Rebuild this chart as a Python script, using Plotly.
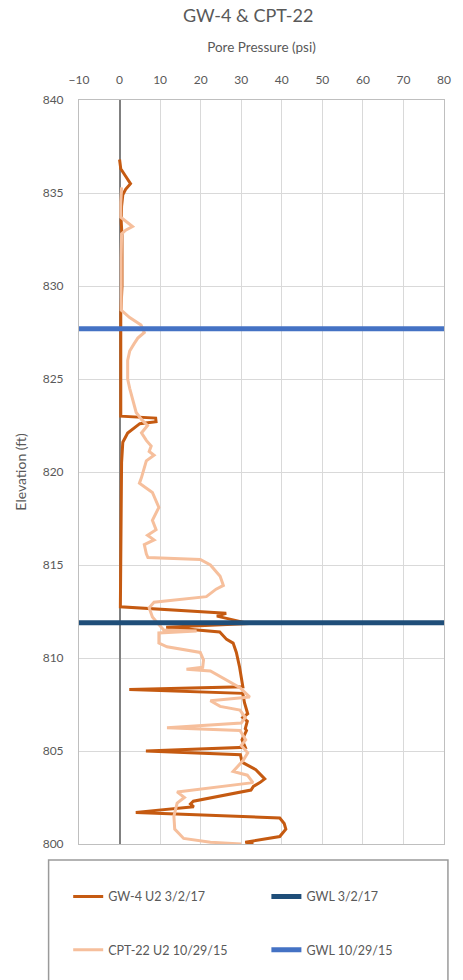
import plotly.graph_objects as go

# GW-4 piezocone pore pressure, 3/2/17
gw4_elev = [836.8, 836.3, 835.9, 835.5, 835.2, 834.9, 834.3, 833.5, 832.7, 831.0,
            830.0, 828.5, 826.0, 824.0, 823.0, 822.9, 822.7, 822.6, 822.5, 822.1,
            821.6, 820.5, 818.0, 815.0, 813.5, 812.75, 812.4, 812.25, 811.85, 811.65,
            811.4, 811.0, 810.8, 810.3, 809.5, 809.0, 808.45, 808.3, 808.1, 807.6,
            807.0, 806.8, 806.6, 806.2, 806.1, 805.6, 805.2, 805.0, 804.8, 804.4,
            804.0, 803.5, 803.3, 803.1, 802.9, 802.3, 802.15, 802.0, 801.7, 801.4,
            801.1, 800.8, 800.4, 800.1, 800.0]
gw4_psi = [0.0, 0.3, 1.5, 2.7, 1.5, 0.8, 0.5, 0.4, 0.6, 0.5,
           0.6, 0.3, 0.3, 0.3, 0.3, 8.9, 9.0, 5.0, 4.4, 2.0,
           0.8, 0.5, 0.4, 0.3, 0.2, 0.2, 26.3, 24.0, 32.0, 11.5,
           24.7, 26.4, 28.0, 28.8, 29.6, 30.0, 30.4, 2.4, 30.4, 30.8,
           31.6, 30.4, 31.5, 31.0, 31.3, 30.2, 31.0, 6.5, 29.8, 30.2,
           33.6, 35.8, 34.6, 33.0, 32.4, 18.2, 17.5, 18.3, 4.0, 39.5,
           40.6, 41.0, 39.5, 31.0, 33.0]

# CPT-22 U2 pore pressure, 10/29/15
cpt_elev = [835.3, 834.5, 833.7, 833.4, 833.2, 833.0, 832.8, 831.5, 830.0, 829.0,
            828.7, 828.3, 827.9, 827.5, 827.2, 826.9, 826.5, 826.0, 825.0, 824.5,
            823.9, 823.2, 822.8, 822.5, 822.1, 821.7, 821.4, 821.1, 820.9, 820.6,
            819.7, 819.4, 818.9, 818.1, 817.4, 816.9, 816.6, 816.35, 816.1, 815.6,
            815.4, 815.3, 815.0, 814.4, 813.9, 813.7, 813.3, 813.0, 812.7, 812.2,
            811.9, 811.5, 811.45, 811.35, 810.8, 810.6, 810.3, 809.9, 809.5, 809.4,
            809.3, 808.8, 808.4, 807.9, 807.7, 807.4, 807.2, 806.8, 806.5, 806.25,
            806.1, 805.6, 805.3, 804.9, 804.5, 803.9, 803.7, 803.3, 802.9, 802.8,
            802.5, 802.2, 801.5, 800.8, 800.3, 800.1, 800.0]
cpt_psi = [0.5, 0.3, 0.3, 2.0, 3.2, 1.5, 0.5, 0.4, 0.5, 0.4,
           0.4, 2.5, 5.3, 6.1, 4.5, 3.6, 2.5, 2.0, 2.0, 2.5,
           3.2, 4.1, 5.5, 6.9, 5.4, 6.6, 7.8, 7.3, 8.5, 6.6,
           5.4, 4.9, 8.1, 9.7, 8.1, 9.0, 6.9, 8.5, 6.1, 6.6,
           7.0, 19.9, 22.4, 24.8, 25.6, 23.8, 21.4, 8.5, 7.3, 8.1,
           9.3, 10.9, 19.0, 9.7, 9.7, 11.7, 19.9, 20.7, 20.5, 16.5,
           22.4, 26.3, 29.7, 32.1, 22.4, 24.8, 29.7, 31.0, 30.0, 11.7,
           29.7, 31.1, 30.0, 31.6, 30.5, 28.0, 31.5, 32.9, 17.0, 14.2,
           16.0, 14.2, 13.4, 13.6, 15.8, 22.4, 30.0]

# Groundwater levels (elevation, ft)
gwl_2017 = 811.9
gwl_2015 = 827.7
x_span = [-10, 80]

x_ticks = [-10, 0, 10, 20, 30, 40, 50, 60, 70, 80]
y_ticks = [800, 805, 810, 815, 820, 825, 830, 835, 840]

FONT = "Lato"
GREY = "#595959"

fig = go.Figure()
fig.add_trace(go.Scatter(x=gw4_psi, y=gw4_elev, mode="lines", name="GW-4 U2 3/2/17",
                         line=dict(color="#C55A11", width=3), legend="legend",
                         showlegend=True))
fig.add_trace(go.Scatter(x=cpt_psi, y=cpt_elev, mode="lines", name="CPT-22 U2 10/29/15",
                         line=dict(color="#F6BF9C", width=3), legend="legend3",
                         showlegend=True))
fig.add_trace(go.Scatter(x=x_span, y=[gwl_2017, gwl_2017], mode="lines", name="GWL 3/2/17",
                         line=dict(color="#1F4E79", width=5), legend="legend2",
                         showlegend=True))
fig.add_trace(go.Scatter(x=x_span, y=[gwl_2015, gwl_2015], mode="lines", name="GWL 10/29/15",
                         line=dict(color="#4472C4", width=5), legend="legend4",
                         showlegend=True))

# one entry per legend so the 2x2 grid can be placed freely
legend_common = dict(orientation="h", xanchor="left", yanchor="middle",
                     font=dict(family=FONT, size=12.5, color=GREY),
                     bgcolor="rgba(0,0,0,0)", borderwidth=0)
col1, col2 = -0.0296, 0.5134
row1, row2 = -0.071, -0.1425

fig.update_layout(
    width=463, height=980, autosize=False,
    margin=dict(l=79, r=12, t=100, b=136),
    paper_bgcolor="white", plot_bgcolor="white",
    font=dict(family=FONT, color=GREY),
    showlegend=True,
    title=dict(text="GW-4 & CPT-22", x=0.536, xref="container", xanchor="center",
               y=0.9837, yref="container", yanchor="middle",
               font=dict(family=FONT, size=18, color=GREY)),
    xaxis=dict(range=x_span, tickvals=x_ticks, side="top",
               showgrid=True, gridcolor="#D9D9D9", gridwidth=1,
               zeroline=True, zerolinecolor="#808080", zerolinewidth=1.5,
               showline=True, linecolor="#BFBFBF", mirror=True,
               ticks="", ticklabelstandoff=10,
               tickfont=dict(family=FONT, size=12, color=GREY),
               title=dict(text="Pore Pressure (psi)", standoff=16,
                          font=dict(family=FONT, size=13.5, color=GREY))),
    yaxis=dict(range=[800, 840], tickvals=y_ticks,
               showgrid=True, gridcolor="#D9D9D9", gridwidth=1, zeroline=False,
               showline=True, linecolor="#BFBFBF", mirror=True,
               ticks="", ticklabelstandoff=12,
               tickfont=dict(family=FONT, size=12, color=GREY),
               title=dict(text="Elevation (ft)", standoff=12,
                          font=dict(family=FONT, size=14, color=GREY))),
    legend=dict(x=col1, y=row1, visible=True, **legend_common),
    legend2=dict(x=col2, y=row1, visible=True, **legend_common),
    legend3=dict(x=col1, y=row2, visible=True, **legend_common),
    legend4=dict(x=col2, y=row2, visible=True, **legend_common),
    shapes=[dict(type="rect", xref="paper", yref="paper",
                 x0=-0.0833, x1=1.0108, y0=-0.0215, y1=-0.2,
                 line=dict(color="#9A9A9A", width=1.5), fillcolor="rgba(0,0,0,0)")],
)

fig.write_html("out.html")
